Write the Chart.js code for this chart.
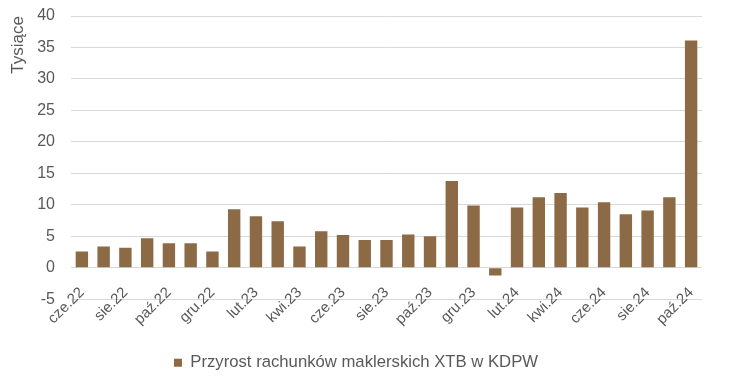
<!DOCTYPE html>
<html>
<head>
<meta charset="utf-8">
<script src="https://cdn.jsdelivr.net/npm/chart.js@4"></script>
<style>
  html, body { margin: 0; padding: 0; background: #fff; }
  #wrap { width: 730px; height: 381px; }
</style>
</head>
<body>
<div id="wrap"><canvas id="xtbChart" width="730" height="381"></canvas></div>
<script>
// Miesiące (cze.22 - paź.24)
const miesiace = ['cze.22', 'lip.22', 'sie.22', 'wrz.22', 'paź.22', 'lis.22', 'gru.22',
    'sty.23', 'lut.23', 'mar.23', 'kwi.23', 'maj.23', 'cze.23', 'lip.23', 'sie.23',
    'wrz.23', 'paź.23', 'lis.23', 'gru.23', 'sty.24', 'lut.24', 'mar.24', 'kwi.24',
    'maj.24', 'cze.24', 'lip.24', 'sie.24', 'wrz.24', 'paź.24'];

// Przyrost rachunków (tysiące)
const przyrost = [2.6, 3.4, 3.2, 4.7, 3.9, 3.9, 2.6,
    9.3, 8.2, 7.4, 3.4, 5.8, 5.2, 4.4, 4.4,
    5.3, 5.0, 13.8, 9.9, -1.2, 9.6, 11.2, 11.9,
    9.6, 10.4, 8.5, 9.1, 11.2, 36.1];

const tytulSerii = 'Przyrost rachunków maklerskich XTB w KDPW';
const tytulOsiY = 'Tysiące';

const kolorTekstu = '#595959';
const czcionka = "'Liberation Sans', Arial, sans-serif";

const ctx = document.getElementById('xtbChart').getContext('2d');

new Chart(ctx, {
    type: 'bar',
    data: {
        labels: miesiace,
        datasets: [{
            label: tytulSerii,
            data: przyrost,
            backgroundColor: '#8c6a45',
            borderWidth: 0,
            barPercentage: 0.57,
            categoryPercentage: 1.0
        }]
    },
    options: {
        responsive: false,
        animation: false,
        layout: {
            padding: { top: 0, right: 28, bottom: 0, left: 10 }
        },
        scales: {
            x: {
                // oś X przecina oś Y w zerze, jak w Excelu
                position: { y: 0 },
                grid: { display: false },
                border: { display: false },
                ticks: {
                    color: kolorTekstu,
                    font: { family: czcionka, size: 15 },
                    autoSkip: false,
                    minRotation: 45,
                    maxRotation: 45,
                    padding: 8,
                    callback: function (v, i) {
                        return i % 2 === 0 ? miesiace[i] : '';
                    }
                }
            },
            y: {
                min: -5,
                max: 40,
                grid: {
                    color: '#d9d9d9',
                    lineWidth: 1,
                    drawTicks: false
                },
                border: { display: false },
                ticks: {
                    stepSize: 5,
                    color: kolorTekstu,
                    font: { family: czcionka, size: 16 },
                    padding: 16
                },
                title: {
                    display: true,
                    text: tytulOsiY,
                    align: 'end',
                    color: kolorTekstu,
                    font: { family: czcionka, size: 17 },
                    padding: { top: -2, bottom: 0 }
                },
                afterFit: function (scale) {
                    scale.width = 61;
                    scale.paddingTop = 16;
                }
            }
        },
        plugins: {
            legend: {
                position: 'bottom',
                // pusty tytuł legendy robi miejsce na etykiety osi X
                title: {
                    display: true,
                    text: ' ',
                    font: { size: 10 },
                    padding: { top: 33, bottom: 0 }
                },
                labels: {
                    color: kolorTekstu,
                    font: { family: czcionka, size: 16.7 },
                    boxWidth: 8,
                    boxHeight: 8,
                    padding: 10
                }
            },
            tooltip: { enabled: false }
        }
    }
});
</script>
</body>
</html>
